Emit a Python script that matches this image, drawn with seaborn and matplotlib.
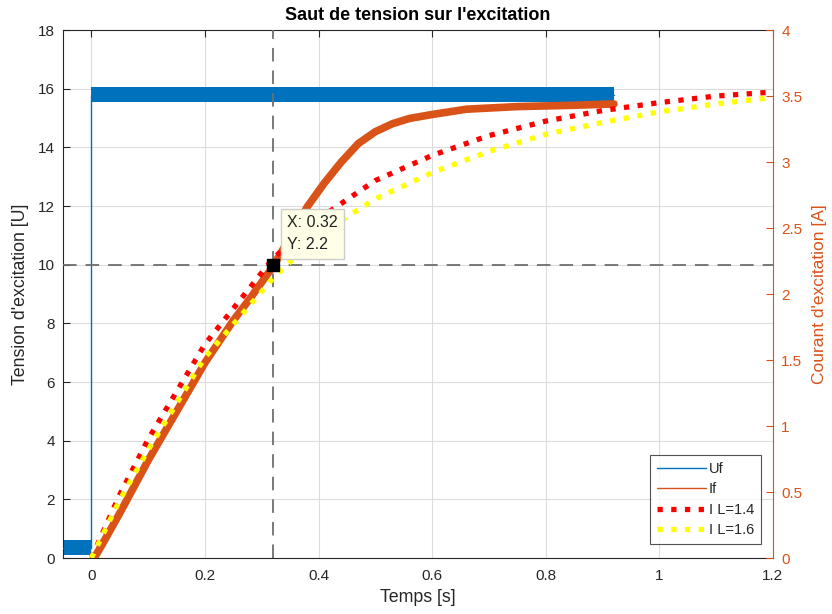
import numpy as np
import pandas as pd
import seaborn as sns
import matplotlib.pyplot as plt
from matplotlib.lines import Line2D
from matplotlib.ticker import FuncFormatter

# Tension d'excitation Uf (V) - step at t=0
uf_t = [-0.05, 0.0, 0.0, 0.92]
uf_v = [0.35, 0.35, 15.8, 15.8]
uf_noise = 0.25

# Courant mesure If (A)
if_t = [0.005, 0.02, 0.05, 0.1, 0.15, 0.2, 0.25, 0.28, 0.32, 0.35, 0.38, 0.41,
        0.44, 0.47, 0.5, 0.53, 0.56, 0.6, 0.66, 0.75, 0.85, 0.92]
if_v = [0.0, 0.11, 0.34, 0.74, 1.11, 1.48, 1.80, 1.97, 2.21, 2.43, 2.66, 2.84,
        3.00, 3.14, 3.23, 3.29, 3.33, 3.36, 3.40, 3.42, 3.43, 3.44]

# Courants simules (A)
sim_t = [0.0, 0.05, 0.1, 0.2, 0.32, 0.4, 0.5, 0.6, 0.7, 0.8, 0.9, 1.0, 1.1, 1.2]
i_l14 = [0.0, 0.48, 0.90, 1.62, 2.27, 2.57, 2.86, 3.05, 3.20, 3.31, 3.39, 3.45, 3.50, 3.53]
i_l16 = [0.0, 0.44, 0.82, 1.52, 2.12, 2.45, 2.72, 2.92, 3.08, 3.21, 3.30, 3.38, 3.44, 3.49]

# Data tip
tip_x = 0.32
tip_y = 2.22
tip_u = 10

df_uf = pd.DataFrame({"t": uf_t, "v": uf_v})
df_if = pd.DataFrame({"t": if_t, "v": if_v})
df_sim = pd.DataFrame({"t": sim_t, "l14": i_l14, "l16": i_l16})

sns.set_style("white")
plt.rcParams['font.family'] = ['Liberation Sans', 'DejaVu Sans']

blue = "#0072BD"
orange = "#D95319"
dark = "#262626"

fig = plt.figure(figsize=(8.32, 6.14), dpi=100)
ax1 = fig.add_axes([0.0757, 0.0912, 0.8533, 0.8599])
ax2 = ax1.twinx()

# Uf on left axis
v = np.array(uf_v)
ax1.fill_between(uf_t, v - uf_noise, v + uf_noise, color=blue, lw=0, zorder=2)
sns.lineplot(data=df_uf, x="t", y="v", ax=ax1, color=blue, lw=1,
             sort=False, estimator=None, zorder=3)

# dashed cursor lines
ax1.axvline(tip_x, color="#6E6E6E", ls=(0, (7.5, 5)), lw=1.3, zorder=4)
ax1.axhline(tip_u, color="#6E6E6E", ls=(0, (7.5, 5)), lw=1.3, zorder=4)

# currents on right axis
sns.lineplot(data=df_if, x="t", y="v", ax=ax2, color=orange, lw=5.5,
             sort=False, estimator=None, zorder=2)
sns.lineplot(data=df_sim, x="t", y="l14", ax=ax2, color="red", lw=3.8,
             zorder=3)
ax2.lines[-1].set_dashes([1, 1.6])
sns.lineplot(data=df_sim, x="t", y="l16", ax=ax2, color="yellow", lw=3.8,
             zorder=3)
ax2.lines[-1].set_dashes([1, 1.6])

# data tip marker + box
ax2.plot([tip_x], [tip_y], marker="s", ms=8, color="black", zorder=6)
ax2.annotate("X: 0.32\nY: 2.2", xy=(tip_x, tip_y), xytext=(10, 9),
             textcoords="offset points", ha="left", va="bottom",
             fontsize=11.5, color="#222222", linespacing=1.6, zorder=7,
             bbox=dict(boxstyle="square,pad=0.4", fc="#FFFFE8", ec="#CCCCCC", lw=1))

# limits / ticks
ax1.set_xlim(-0.05, 1.2)
ax1.set_ylim(0, 18)
ax2.set_ylim(0, 4)
ax1.set_xticks([0, 0.2, 0.4, 0.6, 0.8, 1.0, 1.2])
ax1.set_yticks(np.arange(0, 19, 2))
ax2.set_yticks(np.arange(0, 4.01, 0.5))
fmt = FuncFormatter(lambda x, p: f"{x:g}")
ax1.xaxis.set_major_formatter(fmt)
ax2.yaxis.set_major_formatter(fmt)

ax1.grid(True, color="#DCDCDC", lw=0.8)
ax1.set_axisbelow(True)

ax1.tick_params(axis="x", direction="in", top=True, length=5, width=0.8,
                labelsize=11, colors=dark, pad=8)
ax1.tick_params(axis="y", direction="in", length=5, width=0.8,
                labelsize=11, colors=dark, pad=6)
ax2.tick_params(axis="y", direction="in", length=5, width=0.8,
                labelsize=11, colors=orange, pad=6)

for s in ["left", "top", "bottom"]:
    ax1.spines[s].set_color(dark)
    ax1.spines[s].set_linewidth(0.8)
for s in ["left", "top", "bottom"]:
    ax2.spines[s].set_visible(False)
ax1.spines["right"].set_visible(False)
ax2.spines["right"].set_color(orange)
ax2.spines["right"].set_linewidth(0.8)

ax1.set_xlabel("Temps [s]", fontsize=12.8, color=dark, labelpad=4)
ax1.set_ylabel("Tension d'excitation [U]", fontsize=12.8, color=dark, labelpad=6)
ax2.set_ylabel("Courant d'excitation [A]", fontsize=12.5, color=orange, labelpad=7)
ax1.set_title("Saut de tension sur l'excitation", fontsize=13, fontweight="bold",
              color="black", pad=7)

# legend
handles = [
    Line2D([], [], color=blue, lw=1),
    Line2D([], [], color=orange, lw=1),
    Line2D([], [], color="red", lw=3.8, dashes=[1, 1.6]),
    Line2D([], [], color="yellow", lw=3.8, dashes=[1, 1.6]),
]
leg = ax2.legend(handles, ["Uf", "If", "I L=1.4", "I L=1.6"], loc="lower right",
                 bbox_to_anchor=(0.983, 0.0265), fontsize=10.5, frameon=True,
                 fancybox=False, edgecolor=dark, handlelength=3.4,
                 handletextpad=0.2, borderaxespad=0, labelspacing=0.45,
                 borderpad=0.45)
leg.get_frame().set_linewidth(0.8)
leg.set_zorder(10)

plt.savefig("out.png", dpi=100)
